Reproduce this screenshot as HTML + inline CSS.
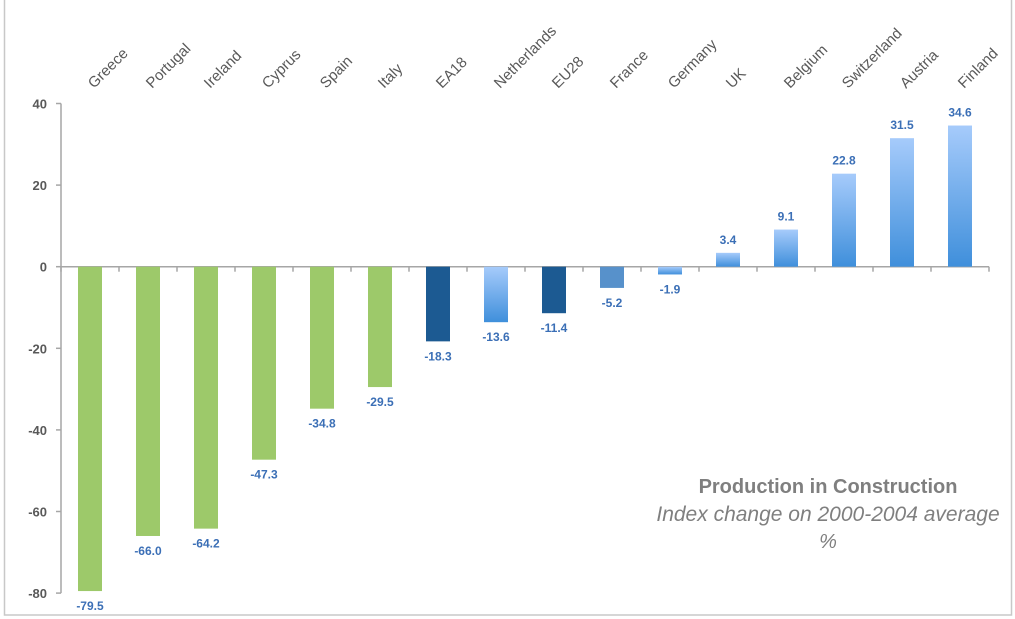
<!DOCTYPE html>
<html><head><meta charset="utf-8"><style>
body{margin:0;background:#fff;}
svg{display:block;font-family:"Liberation Sans",sans-serif;}
</style></head><body>
<svg id="chart" width="1015" height="619" viewBox="0 0 1015 619">
<defs>
<linearGradient id="lb" x1="0" y1="0" x2="0" y2="1"><stop offset="0" stop-color="#a6cbfb"/><stop offset="1" stop-color="#3f8fdb"/></linearGradient>
</defs>
<rect x="4.5" y="-2" width="1007" height="617" fill="none" stroke="#c8c8c8" stroke-width="1.5"/>
<g id="axes"></g>
<g id="bars"></g>
<g id="labels"></g>
<text x="828" y="493" text-anchor="middle" font-size="20" font-weight="bold" fill="#7f7f7f">Production in Construction</text>
<text x="828" y="521" text-anchor="middle" font-size="21" font-style="italic" fill="#7f7f7f">Index change on 2000-2004 average</text>
<text x="828" y="548" text-anchor="middle" font-size="20" font-style="italic" fill="#7f7f7f">%</text>
</svg>
<script>
const categories=["Greece","Portugal","Ireland","Cyprus","Spain","Italy","EA18","Netherlands","EU28","France","Germany","UK","Belgium","Switzerland","Austria","Finland"];
const values=[-79.5,-66.0,-64.2,-47.3,-34.8,-29.5,-18.3,-13.6,-11.4,-5.2,-1.9,3.4,9.1,22.8,31.5,34.6];
const barKinds=["g","g","g","g","g","g","d","l","d","m","l","l","l","l","l","l"];
const yTicks=[40,20,0,-20,-40,-60,-80];
const NS="http://www.w3.org/2000/svg";
const x0=61,step=58,bw=24;
function y(v){return 266.7-v*4.08;}
function cx(i){return x0+step*i+step/2;}
function mk(t,a,p){const e=document.createElementNS(NS,t);for(const k in a)e.setAttribute(k,a[k]);p.appendChild(e);return e;}
const ax=document.getElementById('axes'),bg=document.getElementById('bars'),lg=document.getElementById('labels');
const yl=mk('line',{x1:x0,x2:x0,y1:y(40),y2:y(-80),stroke:'#a6a6a6','stroke-width':1.5},ax);


yTicks.forEach(t=>{
 const tk=mk('line',{x1:x0-5,x2:x0,y1:y(t),y2:y(t),stroke:'#a6a6a6','stroke-width':1.5},ax);
 
 
 const tx=mk('text',{x:x0-14,y:y(t)+5,'text-anchor':'end','font-size':13,'font-weight':'bold',fill:'#595959'},ax);
 tx.textContent=t;
 
 
});
const colors={g:'#9dc96a',d:'#1c5a92',m:'#5791cb',l:'url(#lb)'};
values.forEach((v,i)=>{
 const top=Math.min(y(v),y(0)),h=Math.abs(y(v)-y(0));
 const r=mk('rect',{x:cx(i)-bw/2,y:top,width:bw,height:h,fill:colors[barKinds[i]]},bg);
 
 
 const ly=v>=0?y(v)-9:y(v)+19;
 const t=mk('text',{x:cx(i),y:ly,'text-anchor':'middle','font-size':12,'font-weight':'bold',fill:'#3b6fb6'},lg);
 t.textContent=v.toFixed(1);
 
 
 const c=mk('text',{x:cx(i)+4,y:89,'font-size':15,fill:'#595959',transform:`rotate(-45 ${cx(i)+4} 89)`},lg);
 c.textContent=categories[i];
 
 
});
const xl=mk('line',{x1:x0,x2:x0+step*categories.length,y1:y(0),y2:y(0),stroke:'#a6a6a6','stroke-width':1.5},ax);


for(let i=0;i<=categories.length;i++){
 const tk=mk('line',{x1:x0+step*i,x2:x0+step*i,y1:y(0),y2:y(0)+5,stroke:'#a6a6a6','stroke-width':1.5},ax);
 
 
}
</script>
</body></html>
